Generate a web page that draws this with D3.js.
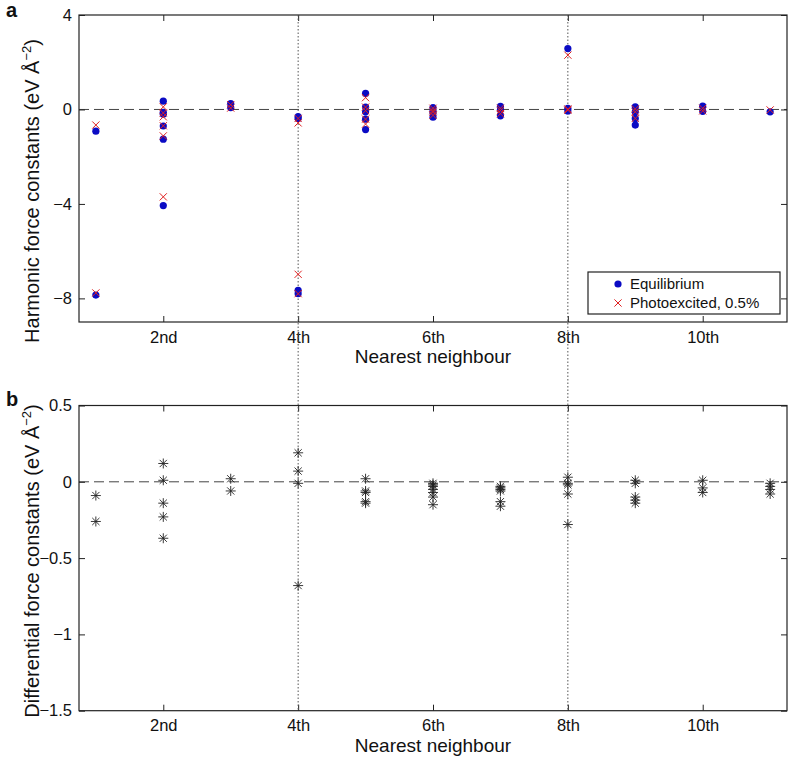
<!DOCTYPE html>
<html>
<head>
<meta charset="utf-8">
<script src="https://cdn.jsdelivr.net/npm/d3@7"></script>
<style>
body { margin: 0; background: #fff; }
svg { display: block; font-family: "Liberation Sans", Arial, sans-serif; }
</style>
</head>
<body>
<svg id="chart" width="788" height="760"></svg>
<script>
// ---- Data ----
const neighbours = [1, 2, 3, 4, 5, 6, 7, 8, 9, 10, 11];
const xTickValues = [2, 4, 6, 8, 10];
const xTickLabels = ["2nd", "4th", "6th", "8th", "10th"];
const topYTicks = [4, 0, -4, -8];
const topYTickLabels = ["4", "0", "\u22124", "\u22128"];
const bottomYTicks = [0.5, 0, -0.5, -1, -1.5];
const bottomYTickLabels = ["0.5", "0", "\u22120.5", "\u22121", "\u22121.5"];
const highlighted = [4, 8];

// Equilibrium harmonic force constants, per neighbour shell
const equilibrium = [
  [-0.92, -7.86],
  [0.35, -0.12, -0.2, -0.7, -1.26, -4.07],
  [0.25, 0.08],
  [-0.3, -0.38, -7.66, -7.8],
  [0.68, 0.1, -0.1, -0.41, -0.85],
  [0.08, -0.05, -0.15, -0.33],
  [0.13, -0.02, -0.27],
  [2.58, 0.05, -0.06],
  [0.11, -0.1, -0.38, -0.66],
  [0.14, -0.08],
  [-0.1]
];
// Photoexcited (0.5%) harmonic force constants
const photoexcited = [
  [-0.66, -7.77],
  [0.11, -0.15, -0.31, -0.69, -1.12, -3.7],
  [0.2, 0.06],
  [-0.38, -0.57, -6.98, -7.8],
  [0.5, 0.1, -0.05, -0.41, -0.62],
  [0.05, -0.05, -0.12, -0.25],
  [0.05, -0.05, -0.18],
  [2.3, 0.02, -0.03],
  [0.02, -0.1, -0.38],
  [0.05, -0.06],
  [-0.02]
];
// Differential force constants
const differential = [
  [-0.09, -0.26],
  [0.12, 0.01, -0.14, -0.23, -0.37],
  [0.02, -0.06],
  [0.19, 0.07, -0.01, -0.68],
  [0.02, -0.06, -0.07, -0.13, -0.14],
  [-0.01, -0.02, -0.03, -0.05, -0.07, -0.1, -0.15],
  [-0.03, -0.04, -0.05, -0.06, -0.13, -0.16],
  [0.03, -0.01, -0.02, -0.08, -0.28],
  [0.01, -0.01, -0.1, -0.12, -0.14],
  [0.01, -0.04, -0.07],
  [-0.01, -0.03, -0.05, -0.08]
];

// ---- Layout ----
const svg = d3.select("#chart");
const L = 79, R = 787;
const topP = { y0: 15, y1: 322 };
const botP = { y0: 405.5, y1: 710.7 };

const x = d3.scaleLinear().domain([0.75, 11.25]).range([L, R]);
const yTop = d3.scaleLinear().domain([-9, 4]).range([topP.y1, topP.y0]);
const yBot = d3.scaleLinear().domain([-1.5, 0.5]).range([botP.y1, botP.y0]);

const tickLen = 6;
const tickFont = 16.5;
const xLabelFont = 19;
const yLabelFont = 20;
const ink = "#111";

function flat(arr) {
  const out = [];
  arr.forEach((vals, i) => vals.forEach(v => out.push({ n: neighbours[i], v })));
  return out;
}

function drawFrame(y, p, yTicks, yLabels, yLabelText, yLabelCenter, panelLetter, letterY) {
  const g = svg.append("g");
  // zero dashed line
  g.append("line")
    .attr("x1", L).attr("x2", R)
    .attr("y1", y(0)).attr("y2", y(0))
    .attr("stroke", "#444").attr("stroke-width", 1)
    .attr("stroke-dasharray", "10,5");

  const bottomAxis = d3.axisBottom(x).tickValues(xTickValues)
    .tickFormat((d, i) => xTickLabels[i]).tickSizeInner(-tickLen).tickSizeOuter(0).tickPadding(9);
  const ax = g.append("g").attr("transform", `translate(0,${p.y1})`).call(bottomAxis);
  ax.select(".domain").remove();
  ax.selectAll("text").attr("font-size", tickFont).attr("fill", ink)
    .attr("font-family", "Liberation Sans, Arial, sans-serif");
  ax.selectAll("line").attr("stroke", "#222");

  const topAxis = d3.axisTop(x).tickValues(xTickValues).tickFormat("")
    .tickSizeInner(-tickLen).tickSizeOuter(0);
  const at = g.append("g").attr("transform", `translate(0,${p.y0})`).call(topAxis);
  at.select(".domain").remove();
  at.selectAll("line").attr("stroke", "#222");

  const leftAxis = d3.axisLeft(y).tickValues(yTicks)
    .tickFormat((d, i) => yLabels[i]).tickSizeInner(-tickLen).tickSizeOuter(0).tickPadding(7);
  const al = g.append("g").attr("transform", `translate(${L},0)`).call(leftAxis);
  al.select(".domain").remove();
  al.selectAll("text").attr("font-size", tickFont).attr("fill", ink)
    .attr("font-family", "Liberation Sans, Arial, sans-serif");
  al.selectAll("line").attr("stroke", "#222");

  const rightAxis = d3.axisRight(y).tickValues(yTicks).tickFormat("")
    .tickSizeInner(-tickLen).tickSizeOuter(0);
  const ar = g.append("g").attr("transform", `translate(${R},0)`).call(rightAxis);
  ar.select(".domain").remove();
  ar.selectAll("line").attr("stroke", "#222");

  g.append("rect").attr("x", L).attr("y", p.y0)
    .attr("width", R - L).attr("height", p.y1 - p.y0)
    .attr("fill", "none").attr("stroke", "#222").attr("stroke-width", 1.2);

  g.append("text").attr("x", (L + R) / 2).attr("y", p.y1 + 41)
    .attr("text-anchor", "middle").attr("font-size", xLabelFont).attr("fill", ink)
    .text("Nearest neighbour");

  const yl = g.append("text")
    .attr("transform", `translate(39,${yLabelCenter}) rotate(-90)`)
    .attr("text-anchor", "middle").attr("font-size", yLabelFont).attr("fill", ink);
  yl.append("tspan").text(yLabelText + " (eV \u00C5");
  yl.append("tspan").attr("dy", -8).attr("font-size", 13).text("\u22122");
  yl.append("tspan").attr("dy", 8).text(")");

  g.append("text").attr("x", 6).attr("y", letterY)
    .attr("font-size", 20).attr("font-weight", "bold").attr("fill", ink)
    .text(panelLetter);
  return g;
}

drawFrame(yTop, topP, topYTicks, topYTickLabels, "Harmonic force constants", 191, "a", 17);
drawFrame(yBot, botP, bottomYTicks, bottomYTickLabels, "Differential force constants", 561, "b", 406);

// vertical dotted lines through both panels
svg.append("g").selectAll("line").data(highlighted).join("line")
  .attr("x1", d => x(d)).attr("x2", d => x(d))
  .attr("y1", topP.y0).attr("y2", botP.y1)
  .attr("stroke", "#555").attr("stroke-width", 1)
  .attr("stroke-dasharray", "1.5,2");

// top panel markers
const blue = "#0b0bc4", red = "#e02020";
svg.append("g").selectAll("circle").data(flat(equilibrium)).join("circle")
  .attr("cx", d => x(d.n)).attr("cy", d => yTop(d.v)).attr("r", 3.6)
  .attr("fill", blue);

const xs = 3.6;
svg.append("g").selectAll("path").data(flat(photoexcited)).join("path")
  .attr("transform", d => `translate(${x(d.n)},${yTop(d.v)})`)
  .attr("d", `M${-xs},${-xs}L${xs},${xs}M${-xs},${xs}L${xs},${-xs}`)
  .attr("stroke", red).attr("stroke-width", 1).attr("fill", "none");

// bottom panel asterisks
const a = 5, ad = 3.6;
svg.append("g").selectAll("path").data(flat(differential)).join("path")
  .attr("transform", d => `translate(${x(d.n)},${yBot(d.v)})`)
  .attr("d", `M${-a},0L${a},0M0,${-a}L0,${a}M${-ad},${-ad}L${ad},${ad}M${-ad},${ad}L${ad},${-ad}`)
  .attr("stroke", "#222").attr("stroke-width", 0.9).attr("fill", "none");

// legend
const lg = svg.append("g");
lg.append("rect").attr("x", 588).attr("y", 272).attr("width", 192).attr("height", 42)
  .attr("fill", "#fff").attr("stroke", "#222").attr("stroke-width", 1.2);
lg.append("circle").attr("cx", 618).attr("cy", 284).attr("r", 3.6).attr("fill", blue);
lg.append("path").attr("transform", "translate(618,303)")
  .attr("d", `M${-xs},${-xs}L${xs},${xs}M${-xs},${xs}L${xs},${-xs}`)
  .attr("stroke", red).attr("stroke-width", 1);
lg.append("text").attr("x", 630).attr("y", 284).attr("dy", "0.35em")
  .attr("font-size", 15).attr("fill", ink).text("Equilibrium");
lg.append("text").attr("x", 630).attr("y", 303).attr("dy", "0.35em")
  .attr("font-size", 15).attr("fill", ink).text("Photoexcited, 0.5%");
</script>
</body>
</html>
